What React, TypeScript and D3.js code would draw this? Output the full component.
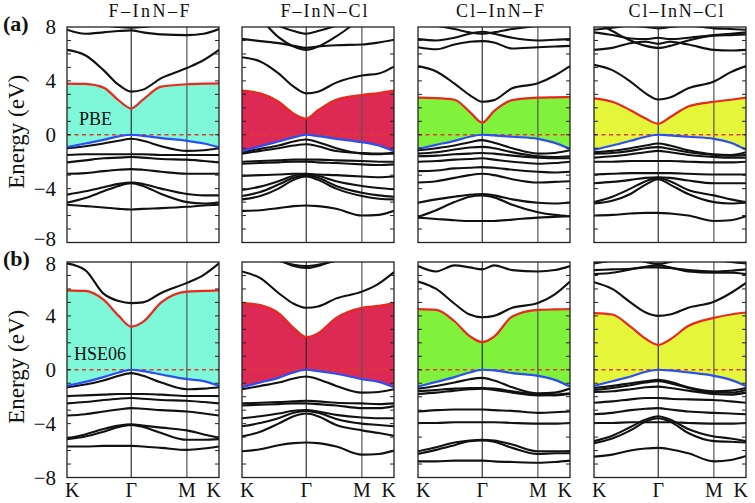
import React from "react";
import * as d3 from "d3";

// k-path sample positions (fraction of K–Γ–M–K path)
const kPoints = [0, 0.12, 0.24, 0.34, 0.4226, 0.5, 0.62, 0.7887, 0.9, 1];
const kLabels = ["K", "Γ", "M", "K"];
const kLabelPos = [0, 0.4226, 0.7887, 1];
const yTicks = [8, 4, 0, -4, -8];
const titles = ["F–InN–F", "F–InN–Cl", "Cl–InN–F", "Cl–InN–Cl"];
const methods = ["PBE", "HSE06"];
const rowLabels = ["(a)", "(b)"];
const fillColors = ["#7ff8d9", "#dd2a55", "#80f23c", "#e5f53a"];

// ---- Row (a): PBE ----
const cbmA1 = [3.8, 3.77, 3.5, 2.55, 1.95, 2.6, 3.57, 3.75, 3.8, 3.82];
const vbmA1 = [-0.92, -0.65, -0.38, -0.12, 0, -0.08, -0.25, -0.45, -0.65, -0.92];
const bandsA1 = [
  [7.8, 7.5, 7.6, 7.7, 7.75, 7.6, 7.45, 7.4, 7.5, 7.85],
  [8.4, 8.3, 8.15, 8.0, 7.95, 8.0, 8.2, 8.4, 8.5, 8.4],
  [6.3, 5.9, 4.8, 3.7, 3.2, 3.35, 4.2, 4.95, 5.55, 6.3],
  [-1.0, -0.85, -0.65, -0.45, -0.3, -0.45, -0.85, -1.2, -1.15, -1.0],
  [-1.5, -1.45, -1.45, -1.45, -1.45, -1.45, -1.5, -1.5, -1.5, -1.5],
  [-2.05, -1.9, -1.75, -1.7, -1.65, -1.7, -1.8, -1.85, -1.95, -2.05],
  [-2.9, -2.85, -2.7, -2.6, -2.55, -2.6, -2.75, -2.9, -2.9, -2.9],
  [-4.45, -4.2, -3.9, -3.65, -3.55, -3.65, -4.0, -4.4, -4.5, -4.5],
  [-5.05, -4.7, -4.2, -3.8, -3.6, -3.8, -4.4, -5.0, -5.1, -5.05],
  [-5.2, -5.3, -5.4, -5.5, -5.55, -5.5, -5.45, -5.35, -5.25, -5.2],
];

const cbmA2 = [3.27, 3.07, 2.45, 1.57, 1.2, 1.82, 2.6, 2.95, 3.1, 3.27];
const vbmA2 = [-1.22, -0.85, -0.5, -0.2, 0, -0.1, -0.3, -0.55, -0.8, -1.22];
const bandsA2 = [
  [9.5, 8.8, 8.1, 7.7, 7.5, 7.7, 8.1, 8.8, 9.2, 9.5],
  [9.6, 8.6, 7.25, 6.55, 6.3, 6.55, 7.3, 8.6, 9.2, 9.6],
  [7.12, 6.95, 6.8, 6.6, 6.45, 6.55, 6.65, 6.7, 6.85, 7.05],
  [5.76, 5.44, 4.56, 3.57, 3.07, 3.2, 3.87, 4.4, 4.55, 5.06],
  [-1.3, -1.05, -0.8, -0.5, -0.35, -0.55, -1.0, -1.4, -1.45, -1.3],
  [-1.4, -1.2, -1.0, -0.8, -0.7, -0.85, -1.2, -1.35, -1.4, -1.4],
  [-2.0, -1.95, -1.9, -1.85, -1.85, -1.85, -1.9, -1.95, -2.0, -2.0],
  [-2.15, -2.1, -2.05, -2.0, -2.0, -2.05, -2.1, -2.2, -2.25, -2.2],
  [-3.05, -3.0, -2.95, -2.9, -2.9, -2.95, -3.0, -3.1, -3.15, -3.1],
  [-4.1, -3.85, -3.45, -3.05, -2.9, -3.05, -3.45, -3.8, -3.95, -4.05],
  [-4.55, -4.25, -3.7, -3.2, -3.0, -3.2, -3.8, -4.3, -4.5, -4.6],
  [-4.8, -4.55, -4.0, -3.35, -3.1, -3.35, -4.0, -4.55, -4.75, -4.8],
  [-5.65, -5.6, -5.45, -5.3, -5.25, -5.3, -5.5, -6.0, -5.95, -5.65],
];

const cbmA3 = [2.75, 2.72, 2.6, 1.7, 0.9, 1.75, 2.57, 2.75, 2.78, 2.8];
const vbmA3 = [-1.05, -0.75, -0.45, -0.15, 0, -0.05, -0.15, -0.3, -0.6, -1.05];
const bandsA3 = [
  [8.3, 8.1, 7.85, 7.6, 7.5, 7.6, 7.85, 8.1, 8.3, 8.4],
  [7.1, 7.0, 7.2, 7.5, 7.65, 7.5, 7.2, 7.0, 7.05, 7.1],
  [6.5, 6.35, 6.7, 6.9, 6.95, 6.85, 6.4, 6.5, 6.55, 6.6],
  [5.1, 4.7, 3.8, 2.95, 2.45, 2.57, 3.45, 3.82, 4.4, 5.1],
  [-1.15, -1.0, -0.8, -0.55, -0.4, -0.6, -1.0, -1.4, -1.35, -1.15],
  [-1.4, -1.3, -1.1, -0.95, -0.9, -1.0, -1.3, -1.6, -1.65, -1.6],
  [-1.6, -1.55, -1.45, -1.4, -1.35, -1.4, -1.55, -1.7, -1.75, -1.75],
  [-2.0, -1.95, -1.85, -1.8, -1.75, -1.85, -2.0, -2.15, -2.1, -2.0],
  [-2.7, -2.65, -2.5, -2.45, -2.4, -2.45, -2.6, -2.75, -2.8, -2.75],
  [-3.55, -3.45, -3.2, -3.0, -2.9, -3.0, -3.3, -3.55, -3.5, -3.45],
  [-5.05, -4.8, -4.6, -4.45, -4.4, -4.5, -4.8, -5.05, -5.1, -5.05],
  [-6.1, -5.6, -5.0, -4.6, -4.5, -4.65, -5.2, -5.75, -5.95, -6.05],
  [-6.15, -6.25, -6.35, -6.4, -6.4, -6.4, -6.3, -6.15, -6.1, -6.05],
];

const cbmA4 = [2.7, 2.45, 1.82, 1.2, 0.82, 1.3, 2.1, 2.45, 2.6, 2.75];
const vbmA4 = [-1.12, -0.8, -0.45, -0.15, 0, -0.05, -0.15, -0.3, -0.6, -1.12];
const bandsA4 = [
  [7.8, 7.95, 8.1, 8.0, 7.9, 8.0, 8.1, 7.9, 7.85, 7.8],
  [7.6, 7.4, 7.15, 7.1, 7.2, 7.1, 7.2, 7.4, 7.5, 7.6],
  [8.4, 7.7, 7.0, 6.6, 6.45, 6.6, 7.0, 7.35, 7.4, 7.45],
  [6.3, 6.45, 6.8, 6.9, 6.75, 6.9, 6.7, 6.3, 6.25, 6.3],
  [5.19, 4.8, 3.95, 3.07, 2.62, 2.77, 3.45, 3.95, 4.65, 5.1],
  [-1.3, -1.2, -1.0, -0.8, -0.65, -0.8, -1.15, -1.45, -1.5, -1.3],
  [-1.4, -1.35, -1.2, -1.0, -0.92, -1.05, -1.3, -1.5, -1.55, -1.5],
  [-1.7, -1.6, -1.45, -1.3, -1.2, -1.3, -1.5, -1.65, -1.7, -1.7],
  [-2.0, -2.0, -1.95, -1.95, -1.95, -1.95, -2.0, -2.05, -2.05, -2.0],
  [-2.95, -2.9, -2.85, -2.85, -2.85, -2.85, -2.9, -2.95, -2.95, -2.95],
  [-3.6, -3.5, -3.35, -3.2, -3.15, -3.2, -3.4, -3.6, -3.6, -3.6],
  [-5.0, -4.6, -4.0, -3.45, -3.2, -3.45, -4.1, -4.5, -4.8, -5.0],
  [-5.1, -4.9, -4.4, -3.7, -3.3, -3.7, -4.4, -5.0, -5.1, -5.05],
  [-6.0, -5.95, -5.85, -5.8, -5.8, -5.85, -6.0, -6.4, -6.35, -6.05],
];

// ---- Row (b): HSE06 ----
const cbmB1 = [5.9, 5.85, 5.2, 4.0, 3.2, 3.55, 5.0, 5.8, 5.85, 5.9];
const vbmB1 = [-1.2, -0.9, -0.55, -0.2, 0, -0.1, -0.35, -0.7, -0.85, -1.2];
const bandsB1 = [
  [7.9, 7.4, 5.65, 5.1, 4.95, 5.0, 5.7, 6.45, 7.05, 7.9],
  [-1.3, -1.1, -0.8, -0.45, -0.25, -0.45, -0.95, -1.45, -1.4, -1.3],
  [-1.95, -1.9, -1.85, -1.8, -1.8, -1.8, -1.85, -1.95, -1.95, -1.95],
  [-2.5, -2.4, -2.25, -2.15, -2.1, -2.15, -2.25, -2.3, -2.4, -2.5],
  [-3.4, -3.3, -3.1, -2.95, -2.85, -2.9, -3.0, -3.1, -3.25, -3.4],
  [-5.1, -4.8, -4.4, -4.15, -4.05, -4.15, -4.3, -4.5, -4.8, -5.05],
  [-5.15, -4.95, -4.6, -4.25, -4.1, -4.25, -4.7, -5.2, -5.2, -5.15],
  [-5.7, -5.7, -5.65, -5.65, -5.65, -5.7, -5.8, -5.95, -5.85, -5.7],
];

const cbmB2 = [4.95, 4.8, 4.2, 3.1, 2.43, 2.7, 3.85, 4.6, 4.75, 4.95];
const vbmB2 = [-1.3, -0.95, -0.6, -0.2, 0, -0.1, -0.3, -0.7, -0.9, -1.3];
const bandsB2 = [
  [7.3, 6.8, 5.7, 4.9, 4.6, 4.7, 5.3, 5.8, 6.4, 7.25],
  [9.0, 8.7, 8.1, 7.8, 7.7, 7.8, 8.1, 8.7, 9.0, 9.0],
  [9.2, 8.8, 8.2, 7.7, 7.55, 7.7, 8.2, 8.8, 9.2, 9.2],
  [-1.45, -1.2, -0.95, -0.65, -0.5, -0.7, -1.2, -1.7, -1.65, -1.45],
  [-2.5, -2.45, -2.4, -2.35, -2.3, -2.35, -2.45, -2.5, -2.55, -2.5],
  [-2.65, -2.6, -2.55, -2.5, -2.5, -2.55, -2.65, -2.85, -2.85, -2.7],
  [-3.6, -3.45, -3.25, -3.05, -3.0, -3.1, -3.35, -3.55, -3.6, -3.6],
  [-4.2, -3.95, -3.6, -3.2, -3.05, -3.2, -3.65, -4.0, -4.1, -4.2],
  [-4.95, -4.6, -4.0, -3.45, -3.25, -3.45, -4.1, -4.5, -4.7, -4.9],
  [-6.05, -5.9, -5.6, -5.45, -5.4, -5.45, -5.7, -6.3, -6.25, -6.0],
];

const cbmB3 = [4.5, 4.45, 3.6, 2.5, 2.05, 2.45, 3.95, 4.45, 4.48, 4.5];
const vbmB3 = [-1.25, -0.9, -0.55, -0.2, 0, -0.05, -0.25, -0.45, -0.75, -1.25];
const bandsB3 = [
  [7.7, 7.3, 7.75, 7.6, 7.45, 7.75, 7.4, 7.3, 7.4, 7.7],
  [6.55, 6.0, 4.9, 4.1, 3.9, 4.0, 4.6, 4.95, 5.6, 6.55],
  [-1.4, -1.2, -0.95, -0.7, -0.6, -0.8, -1.3, -1.75, -1.7, -1.4],
  [-1.6, -1.5, -1.4, -1.35, -1.35, -1.4, -1.6, -1.85, -1.9, -1.8],
  [-1.8, -1.7, -1.55, -1.45, -1.4, -1.5, -1.7, -1.9, -1.85, -1.75],
  [-3.1, -3.0, -2.95, -2.95, -2.95, -3.0, -3.05, -3.2, -3.15, -3.1],
  [-3.95, -3.95, -3.9, -3.9, -3.9, -3.9, -3.95, -4.0, -4.0, -3.95],
  [-6.05, -5.75, -5.4, -5.25, -5.2, -5.25, -5.55, -6.05, -6.05, -6.05],
  [-6.25, -5.95, -5.6, -5.3, -5.25, -5.35, -5.8, -6.25, -6.2, -6.2],
  [-6.8, -6.8, -6.75, -6.75, -6.75, -6.8, -6.85, -6.9, -6.85, -6.75],
];

const cbmB4 = [4.2, 4.1, 3.2, 2.3, 1.85, 2.25, 3.25, 3.85, 4.1, 4.25];
const vbmB4 = [-1.2, -0.85, -0.5, -0.15, 0, -0.05, -0.2, -0.45, -0.75, -1.2];
const bandsB4 = [
  [7.9, 8.1, 8.3, 8.0, 7.85, 8.0, 8.3, 8.2, 8.0, 7.9],
  [7.4, 7.45, 7.5, 7.6, 7.6, 7.55, 7.4, 7.3, 7.35, 7.45],
  [7.1, 7.2, 7.45, 7.65, 7.75, 7.6, 7.3, 7.2, 7.2, 7.1],
  [6.5, 6.0, 5.0, 4.25, 4.0, 4.1, 4.6, 5.05, 5.7, 6.45],
  [-1.35, -1.2, -1.0, -0.85, -0.75, -0.9, -1.3, -1.6, -1.55, -1.35],
  [-1.5, -1.35, -1.15, -0.95, -0.85, -1.0, -1.35, -1.7, -1.7, -1.5],
  [-1.65, -1.6, -1.45, -1.3, -1.25, -1.35, -1.55, -1.8, -1.85, -1.7],
  [-2.45, -2.35, -2.2, -2.1, -2.1, -2.15, -2.2, -2.25, -2.35, -2.45],
  [-3.3, -3.2, -3.0, -2.9, -2.85, -2.95, -3.1, -3.2, -3.25, -3.3],
  [-3.95, -3.95, -3.9, -3.9, -3.9, -3.9, -3.95, -4.0, -4.0, -3.95],
  [-5.3, -4.9, -4.25, -3.7, -3.45, -3.7, -4.4, -4.95, -5.1, -5.3],
  [-5.45, -5.1, -4.5, -3.85, -3.6, -3.85, -4.7, -5.3, -5.35, -5.4],
  [-6.45, -6.3, -6.0, -5.85, -5.8, -5.9, -6.2, -6.8, -6.7, -6.4],
];

const panelData = [
  [
    { cbm: cbmA1, vbm: vbmA1, bands: bandsA1 },
    { cbm: cbmA2, vbm: vbmA2, bands: bandsA2 },
    { cbm: cbmA3, vbm: vbmA3, bands: bandsA3 },
    { cbm: cbmA4, vbm: vbmA4, bands: bandsA4 },
  ],
  [
    { cbm: cbmB1, vbm: vbmB1, bands: bandsB1 },
    { cbm: cbmB2, vbm: vbmB2, bands: bandsB2 },
    { cbm: cbmB3, vbm: vbmB3, bands: bandsB3 },
    { cbm: cbmB4, vbm: vbmB4, bands: bandsB4 },
  ],
];

const W = 755;
const H = 503;
const colLeft = [67, 242, 418, 594];
const panelW = 152;
const rowTop = [27, 262];
const panelH = 215.5;
const titleWidths = [81, 87, 88, 95];
const FONT = "'Liberation Serif', 'Times New Roman', serif";

function tickLabelOffset(row: number, t: number) {
  if (row === 0 && t === -8) return 3;
  if (row === 1 && t === 8) return 9;
  return 7;
}

function Panel({ row, col }: { row: number; col: number }) {
  const { cbm, vbm, bands } = panelData[row][col];
  const left = colLeft[col];
  const top = rowTop[row];
  const x = d3.scaleLinear().domain([0, 1]).range([left, left + panelW]);
  const y = d3.scaleLinear().domain([-8, 8]).range([top + panelH, top]);
  const line = d3
    .line<number>()
    .x((_, i) => x(kPoints[i]))
    .y((d) => y(d))
    .curve(d3.curveMonotoneX);
  const area = d3
    .area<number>()
    .x((_, i) => x(kPoints[i]))
    .y0((_, i) => y(vbm[i]))
    .y1((d) => y(d))
    .curve(d3.curveMonotoneX);
  const clipId = `clip-${row}-${col}`;
  const minor = d3.range(-7, 8);
  return (
    <g>
      <defs>
        <clipPath id={clipId}>
          <rect x={left} y={top} width={panelW} height={panelH} />
        </clipPath>
      </defs>
      <g clipPath={`url(#${clipId})`}>
        <path d={area(cbm) || ""} fill={fillColors[col]} stroke="none" />
        <line
          x1={left}
          x2={left + panelW}
          y1={y(0)}
          y2={y(0)}
          stroke="#e23a2a"
          strokeWidth={1.4}
          strokeDasharray="4,3.5"
        />
        <line x1={x(kLabelPos[1])} x2={x(kLabelPos[1])} y1={top} y2={top + panelH} stroke="#222" strokeWidth={1.1} />
        <line x1={x(kLabelPos[2])} x2={x(kLabelPos[2])} y1={top} y2={top + panelH} stroke="#555" strokeWidth={1.2} />
        {bands.map((b, i) => (
          <path key={i} d={line(b) || ""} fill="none" stroke="#111" strokeWidth={2.1} strokeLinejoin="round" />
        ))}
        <path d={line(cbm) || ""} fill="none" stroke="#e8291c" strokeWidth={2.2} />
        <path d={line(vbm) || ""} fill="none" stroke="#2a4ff5" strokeWidth={2.2} />
      </g>
      {minor.map((t) => (
        <g key={t}>
          <line x1={left} x2={left + 4} y1={y(t)} y2={y(t)} stroke="#222" strokeWidth={1} />
          <line x1={left + panelW - 4} x2={left + panelW} y1={y(t)} y2={y(t)} stroke="#222" strokeWidth={1} />
        </g>
      ))}
      <rect x={left} y={top} width={panelW} height={panelH} fill="none" stroke="#222" strokeWidth={1.3} />
      {col === 0 &&
        yTicks.map((t) => (
          <text
            key={t}
            x={56}
            y={y(t) + tickLabelOffset(row, t)}
            textAnchor="end"
            fontSize={21}
            fontFamily={FONT}
            fill="#111"
          >
            {t < 0 ? `−${Math.abs(t)}` : `${t}`}
          </text>
        ))}
      {col === 0 && (
        <text x={row === 0 ? 79 : 74} y={y(0) - 10} fontSize={18} fontFamily={FONT} fill="#111">
          {methods[row]}
        </text>
      )}
      {row === 1 &&
        kLabels.map((lab, i) => {
          const anchor = i === 0 ? "start" : i === kLabels.length - 1 ? "end" : "middle";
          const xx = i === 0 ? left - 2 : i === kLabels.length - 1 ? left + panelW + 2 : x(kLabelPos[i]);
          return (
            <text key={i} x={xx} y={497} textAnchor={anchor} fontSize={20} fontFamily={FONT} fill="#111">
              {lab}
            </text>
          );
        })}
      {row === 0 && (
        <text
          x={left + 82}
          y={17}
          textAnchor="middle"
          fontSize={18}
          fontFamily={FONT}
          fill="#111"
          textLength={titleWidths[col]}
          lengthAdjust="spacing"
        >
          {titles[col]}
        </text>
      )}
    </g>
  );
}

export default function App() {
  return (
    <svg
      width={W}
      height={H}
      viewBox={`0 0 ${W} ${H}`}
      style={{ position: "absolute", left: 0, top: 0, background: "#fff" }}
    >
      <rect x={0} y={0} width={W} height={H} fill="#fff" />
      {[0, 1].map((row) =>
        [0, 1, 2, 3].map((col) => <Panel key={`${row}-${col}`} row={row} col={col} />)
      )}
      {rowLabels.map((lab, row) => (
        <text key={lab} x={3} y={rowTop[row] + 4} fontSize={22} fontWeight="bold" fontFamily={FONT} fill="#111">
          {lab}
        </text>
      ))}
      {[0, 1].map((row) => {
        const cy = rowTop[row] + panelH / 2 - 3;
        return (
          <text
            key={row}
            transform={`translate(24,${cy}) rotate(-90)`}
            textAnchor="middle"
            fontSize={23}
            fontFamily={FONT}
            fill="#111"
          >
            Energy (eV)
          </text>
        );
      })}
    </svg>
  );
}
